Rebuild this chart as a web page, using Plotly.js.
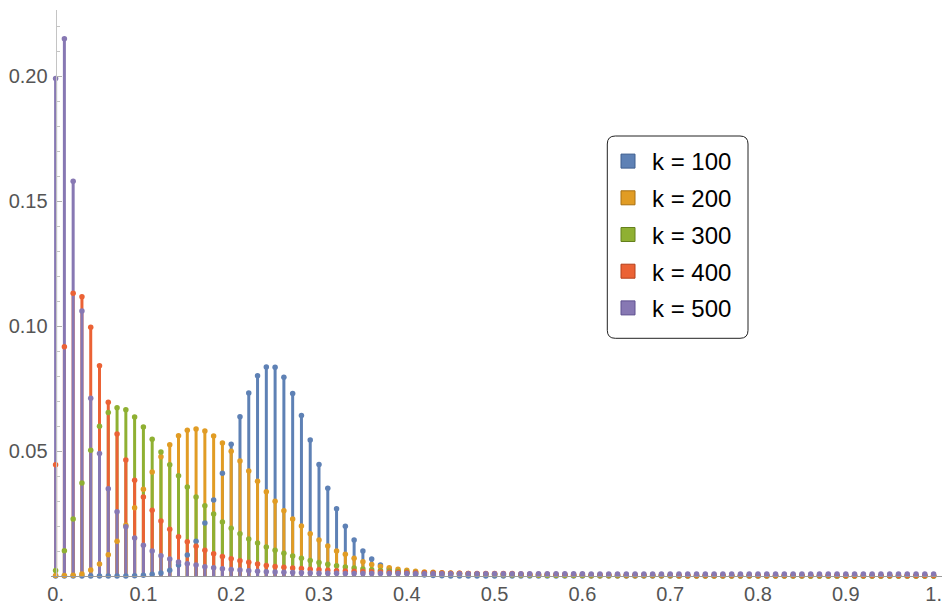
<!DOCTYPE html>
<html><head><meta charset="utf-8">
<script src="https://cdn.plot.ly/plotly-3.0.1.min.js"></script>
<style>html,body{margin:0;padding:0;background:#fff}#chart{width:942px;height:608px}</style>
</head><body><div id="chart"></div>
<script>
const xs = [0,0.01,0.02,0.03,0.04,0.05,0.06,0.07,0.08,0.09,
0.1,0.11,0.12,0.13,0.14,0.15,0.16,0.17,0.18,0.19,
0.2,0.21,0.22,0.23,0.24,0.25,0.26,0.27,0.28,0.29,
0.3,0.31,0.32,0.33,0.34,0.35,0.36,0.37,0.38,0.39,
0.4,0.41,0.42,0.43,0.44,0.45,0.46,0.47,0.48,0.49,
0.5,0.51,0.52,0.53,0.54,0.55,0.56,0.57,0.58,0.59,
0.6,0.61,0.62,0.63,0.64,0.65,0.66,0.67,0.68,0.69,
0.7,0.71,0.72,0.73,0.74,0.75,0.76,0.77,0.78,0.79,
0.8,0.81,0.82,0.83,0.84,0.85,0.86,0.87,0.88,0.89,
0.9,0.91,0.92,0.93,0.94,0.95,0.96,0.97,0.98,0.99,1];

const seriesNames = ['k = 100','k = 200','k = 300','k = 400','k = 500'];

const k100 = [0,0,0,0,0,0,0,0,0,0.0001,
0.0003,0.0007,0.0012,0.0023,0.0044,0.0084,0.0139,0.0212,0.0304,0.0411,
0.0527,0.0637,0.0732,0.0801,0.0836,0.0835,0.0795,0.0730,0.0642,0.0544,
0.0446,0.0351,0.0269,0.0199,0.0144,0.0100,0.0068,0.0044,0.0028,0.0018,
0.0011,0.0007,0.0004,0.0002,0.0001,0,0,0,0,0,
0,0,0,0,0,0,0,0,0,0,
0,0,0,0,0,0,0,0,0,0,
0,0,0,0,0,0,0,0,0,0,
0,0,0,0,0,0,0,0,0,0,
0,0,0,0,0,0,0,0,0,0,0];

const k200 = [0.0002,0.0002,0.0003,0.0008,0.0024,0.0048,0.0085,0.0139,0.0203,0.0273,
0.0347,0.0416,0.0477,0.0525,0.0561,0.0583,0.0588,0.0580,0.0560,0.0532,
0.0499,0.0460,0.0420,0.0379,0.0337,0.0299,0.0261,0.0228,0.0200,0.0169,
0.0144,0.0120,0.0100,0.0087,0.0071,0.0057,0.0046,0.0038,0.0033,0.0027,
0.0023,0.0019,0.0016,0.0015,0.0013,0.0012,0.0011,0.0010,0.0008,0.0007,
0.0006,0.0005,0.0005,0.0004,0.0004,0.0003,0.0003,0.0003,0.0002,0.0002,
0.0002,0.0001,0.0001,0.0001,0.0001,0.0001,0.0001,0.0001,0.0001,0.0001,
0.0001,0,0,0,0,0,0,0,0,0,
0,0,0,0,0,0,0,0,0,0,
0,0,0,0,0,0,0,0,0,0,0];

const k300 = [0.0022,0.0101,0.0228,0.0372,0.0503,0.0599,0.0654,0.0673,0.0665,0.0636,
0.0596,0.0547,0.0496,0.0445,0.0401,0.0356,0.0316,0.0281,0.0248,0.0216,
0.0191,0.0169,0.0148,0.0132,0.0116,0.0103,0.0091,0.0080,0.0071,0.0062,
0.0054,0.0047,0.0041,0.0036,0.0032,0.0028,0.0025,0.0022,0.0020,0.0018,
0.0016,0.0014,0.0013,0.0012,0.0011,0.0010,0.0009,0.0008,0.0008,0.0007,
0.0006,0.0006,0.0005,0.0005,0.0004,0.0004,0.0003,0.0003,0.0003,0.0003,
0.0003,0.0002,0.0002,0.0002,0.0002,0.0002,0.0002,0.0002,0.0002,0.0002,
0.0002,0.0001,0.0001,0.0001,0.0001,0.0001,0.0001,0.0001,0.0001,0.0001,
0.0001,0.0001,0.0001,0.0001,0.0001,0.0001,0,0,0,0,
0,0,0,0,0,0,0,0,0,0,0];

const k400 = [0.0445,0.0917,0.1131,0.1117,0.0995,0.0841,0.0695,0.0568,0.0464,0.0383,
0.0316,0.0263,0.0220,0.0187,0.0157,0.0137,0.0119,0.0103,0.0089,0.0078,
0.0069,0.0061,0.0055,0.0048,0.0042,0.0038,0.0035,0.0032,0.0030,0.0027,
0.0025,0.0023,0.0021,0.0020,0.0019,0.0018,0.0017,0.0016,0.0015,0.0014,
0.0014,0.0013,0.0013,0.0012,0.0012,0.0011,0.0011,0.0010,0.0010,0.0010,
0.0010,0.0010,0.0010,0.0008,0.0007,0.0007,0.0007,0.0006,0.0006,0.0006,
0.0006,0.0005,0.0005,0.0005,0.0005,0.0004,0.0004,0.0004,0.0004,0.0004,
0.0004,0.0003,0.0003,0.0003,0.0003,0.0003,0.0003,0.0003,0.0003,0.0003,
0.0003,0.0003,0.0003,0.0003,0.0003,0.0003,0.0003,0.0003,0.0003,0.0003,
0.0002,0.0002,0.0002,0.0002,0.0002,0.0002,0.0002,0.0002,0.0002,0.0002,0.0002];

const k500 = [0.1990,0.2149,0.1579,0.1060,0.0711,0.0490,0.0349,0.0257,0.0197,0.0152,
0.0123,0.0100,0.0081,0.0068,0.0056,0.0049,0.0044,0.0037,0.0033,0.0029,
0.0026,0.0024,0.0021,0.0019,0.0017,0.0016,0.0015,0.0014,0.0013,0.0012,
0.0011,0.0011,0.0011,0.0010,0.0010,0.0010,0.0010,0.0010,0.0010,0.0010,
0.0010,0.0009,0.0009,0.0009,0.0009,0.0009,0.0009,0.0009,0.0009,0.0009,
0.0009,0.0009,0.0009,0.0009,0.0009,0.0009,0.0009,0.0009,0.0009,0.0009,
0.0009,0.0008,0.0008,0.0008,0.0008,0.0008,0.0008,0.0008,0.0008,0.0008,
0.0008,0.0008,0.0008,0.0008,0.0008,0.0008,0.0008,0.0008,0.0008,0.0008,
0.0008,0.0008,0.0008,0.0008,0.0008,0.0008,0.0008,0.0008,0.0008,0.0008,
0.0008,0.0008,0.0008,0.0008,0.0008,0.0008,0.0008,0.0008,0.0008,0.0008,0.0008];

const xTickVals = [0,0.1,0.2,0.3,0.4,0.5,0.6,0.7,0.8,0.9,1];
const xTickText = ['0.','0.1','0.2','0.3','0.4','0.5','0.6','0.7','0.8','0.9','1.'];
const yTickVals = [0.05,0.1,0.15,0.2];
const yTickText = ['0.05','0.10','0.15','0.20'];

const series = [k100,k200,k300,k400,k500];
const colors = ['#5E81B5','#E19C24','#8FB032','#EB6235','#8778B3'];
const edgeColors = ['#3E5F8F','#A87112','#64801C','#B4401C','#5E5090'];

const traces = [];
// stems (later series drawn on top)
series.forEach((vals, s) => {
  const sx = [], sy = [];
  xs.forEach((x, i) => { sx.push(x, x, null); sy.push(0, vals[i], null); });
  traces.push({type:'scatter', mode:'lines', x:sx, y:sy,
    line:{color:colors[s], width:3}, hoverinfo:'skip', showlegend:false});
});
// points on top of all stems
series.forEach((vals, s) => {
  traces.push({type:'scatter', mode:'markers', x:xs, y:vals, name:seriesNames[s],
    marker:{color:colors[s], size:5.5}, cliponaxis:false, showlegend:false});
});
// legend swatches
series.forEach((vals, s) => {
  traces.push({type:'scatter', mode:'markers', x:[null], y:[null], name:seriesNames[s],
    legendgroup:'g'+s,
    marker:{symbol:'square', size:14, color:colors[s], line:{color:edgeColors[s], width:1}}});
});

// geometry in pixels
const L = 51, T = 10, W = 891, H = 566;
const X0PX = 55.6, XSCALE = 878;
const px2x = p => (p - L) / W;
const px2y = p => 1 - (p - T) / H;
const bx0 = px2x(607.3), bx1 = px2x(748), byT = px2y(136), byB = px2y(338.3);
const rx = 8 / W, ry = 8 / H;
const boxPath = `M ${bx0+rx},${byT} L ${bx1-rx},${byT} Q ${bx1},${byT} ${bx1},${byT-ry} ` +
  `L ${bx1},${byB+ry} Q ${bx1},${byB} ${bx1-rx},${byB} L ${bx0+rx},${byB} ` +
  `Q ${bx0},${byB} ${bx0},${byB+ry} L ${bx0},${byT-ry} Q ${bx0},${byT} ${bx0+rx},${byT} Z`;
const xmin = -(X0PX - L) / XSCALE;

const layout = {
  width:942, height:608,
  margin:{l:L, r:0, t:T, b:608-T-H, pad:0},
  paper_bgcolor:'#fff', plot_bgcolor:'#fff',
  font:{family:'"Liberation Sans", Arial, Helvetica, sans-serif', size:20, color:'#555'},
  showlegend:true,
  xaxis:{range:[xmin, xmin + W/XSCALE], showgrid:false, zeroline:false,
    showline:true, linecolor:'#9a9a9a', linewidth:1,
    tickmode:'array', tickvals:xTickVals, ticktext:xTickText, ticks:'',
    ticklabeloverflow:'allow',
    tickfont:{size:20, color:'#555'}, fixedrange:true},
  yaxis:{range:[0, H/2500], showgrid:false, zeroline:false,
    anchor:'free', position:px2x(X0PX),
    showline:true, linecolor:'#c4c4c4', linewidth:1,
    tickmode:'array', tickvals:yTickVals, ticktext:yTickText,
    ticks:'inside', ticklen:5, tickcolor:'#b0b0b0', tickwidth:1,
    minor:{ticks:'inside', ticklen:3, tickcolor:'#c4c4c4', dtick:0.01, tick0:0, showgrid:false},
    ticklabelstandoff:4,
    tickfont:{size:20, color:'#555'}, fixedrange:true},
  legend:{x:px2x(604), y:px2y(139), xanchor:'left', yanchor:'top',
    bgcolor:'rgba(0,0,0,0)', borderwidth:0, itemwidth:38,
    font:{size:24, color:'#000', family:'"Liberation Sans", Arial, Helvetica, sans-serif'},
    traceorder:'grouped', tracegroupgap:2.5},
  shapes:[{type:'path', xref:'paper', yref:'paper', path:boxPath,
    line:{color:'#222', width:1}, fillcolor:'#fff', layer:'below'}]
};

Plotly.newPlot('chart', traces, layout, {displayModeBar:false, staticPlot:true});
</script>
</body></html>
